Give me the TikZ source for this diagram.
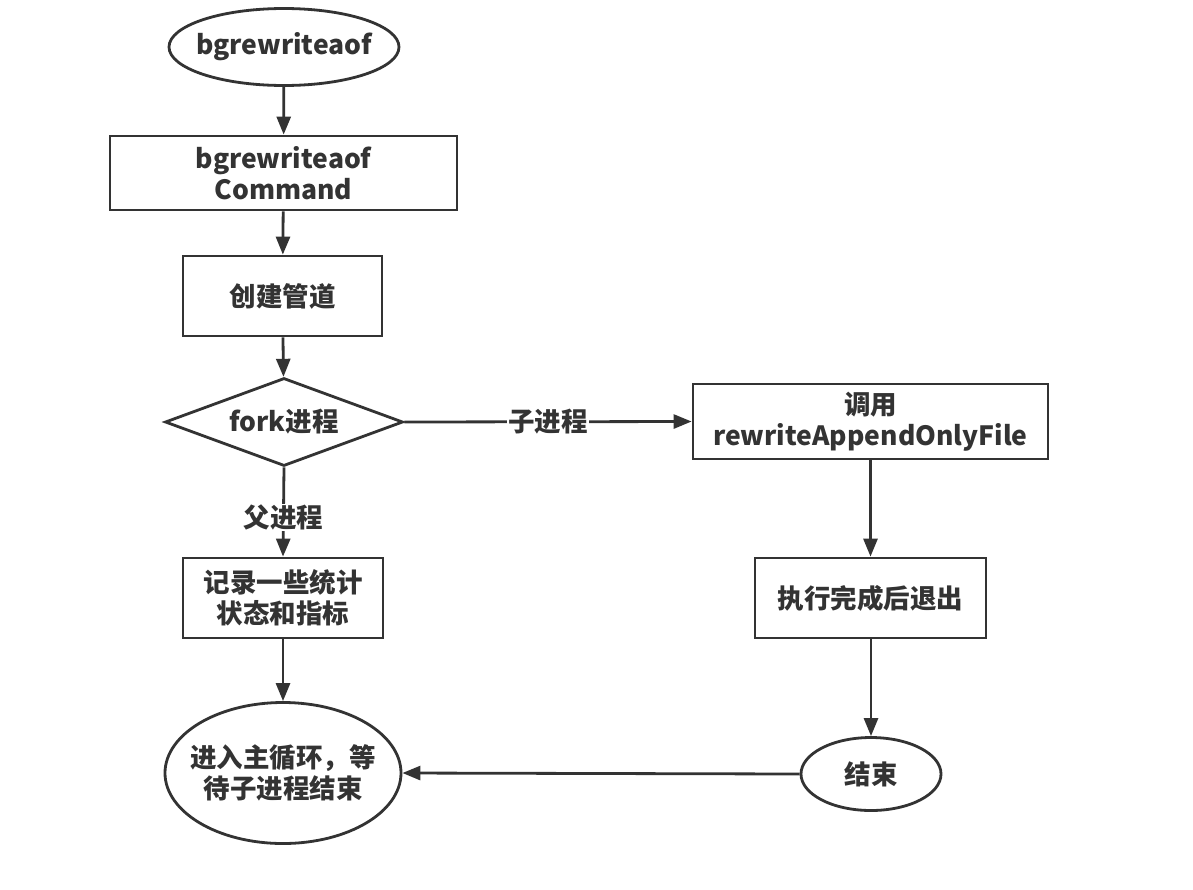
\documentclass[tikz,border=0pt]{standalone}
\usepackage{fontspec}
\newfontfamily\cjk{Noto Sans CJK SC}
\usetikzlibrary{shapes.geometric,arrows.meta}
\definecolor{linec}{HTML}{333333}
\definecolor{textc}{HTML}{333333}
\begin{document}
\begin{tikzpicture}[x=1pt,y=-1pt,
  txt/.style={font=\cjk\bfseries\fontsize{26.5}{31}\selectfont, text=textc, align=center},
  base/.style={draw=linec, line width=2.8pt, txt, inner sep=0pt},
  box/.style={base, rectangle},
  oval/.style={base, ellipse},
  dia/.style={base, diamond, aspect=2.67},
  arr/.style={draw=linec, line width=2.8pt, -{Triangle[length=18pt,width=14pt]}},
  lbl/.style={fill=white, txt, inner sep=1pt}]
\fill[white] (0,0) rectangle (1193,889);
\useasboundingbox (0,0) rectangle (1193,889);
\node[oval, minimum width=230, minimum height=77, label={[txt]center:bgrewriteaof}] (n1) at (284,47) {};
\node[box, minimum width=347, minimum height=74] (n2) at (283.5,173) {bgrewriteaof\\Command};
\node[box, minimum width=199, minimum height=80] (n3) at (282.5,296) {创建管道};
\node[dia, minimum width=238, minimum height=88] (n4) at (284,422) {fork进程};
\node[box, minimum width=355, minimum height=75] (n5) at (870.5,421.5) {调用\\rewriteAppendOnlyFile};
\node[box, minimum width=231, minimum height=80] (n6) at (870.5,598) {执行完成后退出};
\node[oval, minimum width=140, minimum height=73, label={[txt]center:结束}] (n7) at (871,774) {};
\node[box, minimum width=200, minimum height=80] (n8) at (283,598) {记录一些统计\\状态和指标};
\node[oval, minimum width=236, minimum height=141, label={[txt]center:进入主循环，等\\待子进程结束}] (n9) at (283,773) {};
\draw[arr] (n1) -- (n2);
\draw[arr] (n2) -- (n3);
\draw[arr] (n3) -- (n4);
\draw[arr] (n4.east) -- node[lbl] {子进程} (n5.west);
\draw[arr] (n4.south) -- node[lbl, pos=0.56] {父进程} (n8.north);
\draw[arr] (n5.south -| n6.north) -- (n6.north);
\draw[arr] (n6.south -| n7.north) -- (n7.north);
\draw[arr] (n8) -- (n9);
\draw[arr] (n7.west) -- (n9.east);
\end{tikzpicture}
\end{document}
